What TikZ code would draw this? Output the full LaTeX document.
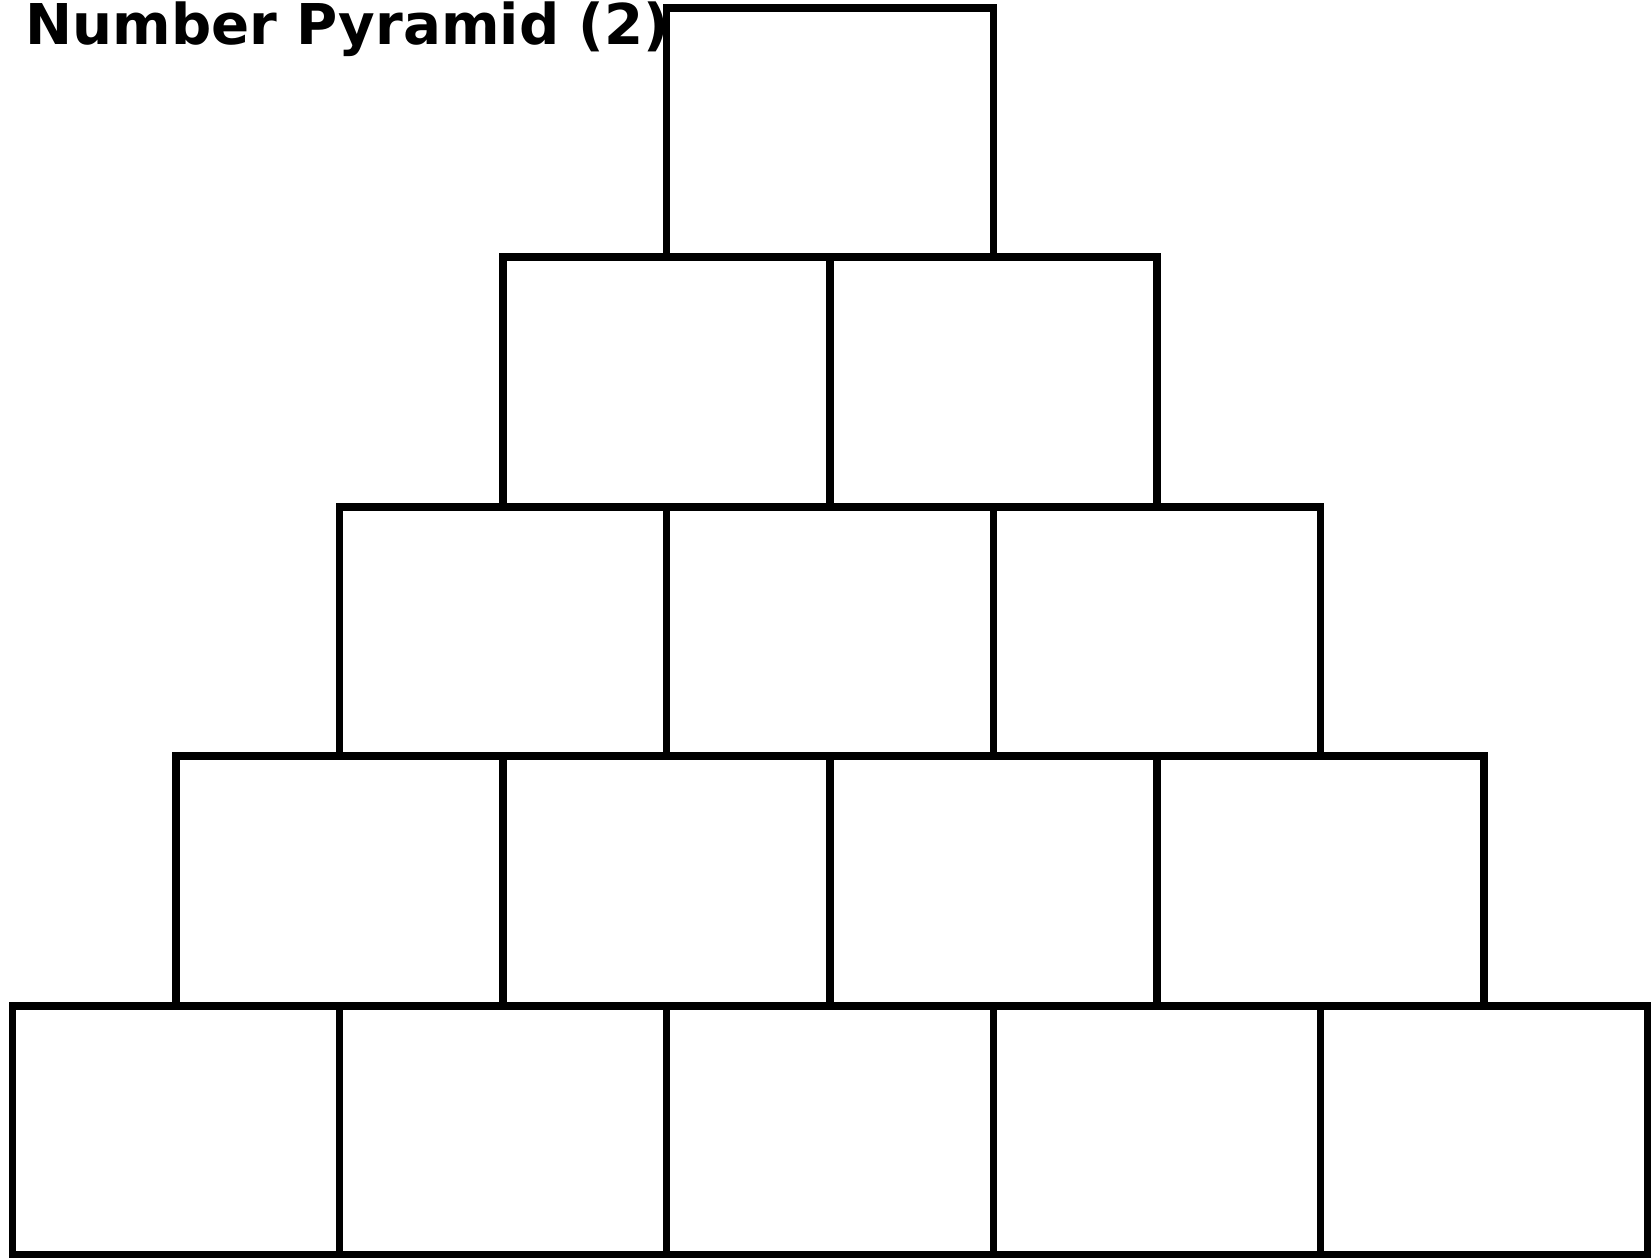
\documentclass[tikz,border=0pt]{standalone}
\usepackage{fontspec}
\setmainfont{DejaVu Sans}
\usetikzlibrary{positioning}
\tikzset{
  brick/.style={draw,line width=4.5pt,minimum width=6.54cm,minimum height=4.99cm,
    inner sep=0pt,outer sep=0pt},
  heading/.style={font=\fontsize{32}{38}\selectfont\bfseries,inner sep=0pt}
}

\begin{document}
\begin{tikzpicture}[x=0.02cm,y=0.02cm]
  \useasboundingbox (0,0) rectangle (1651,1258);
  % rows of bricks, top row has one brick
  \foreach \r in {1,...,5}
    \foreach \i in {1,...,\r}
      \node[brick] (b\r\i) at ({830+(\i-(\r+1)/2)*327},{1250-(\r-0.5)*249.4}) {};
  \node[heading,anchor=base west] (title) at (25,1213) {Number Pyramid (2)};
\end{tikzpicture}
\end{document}
